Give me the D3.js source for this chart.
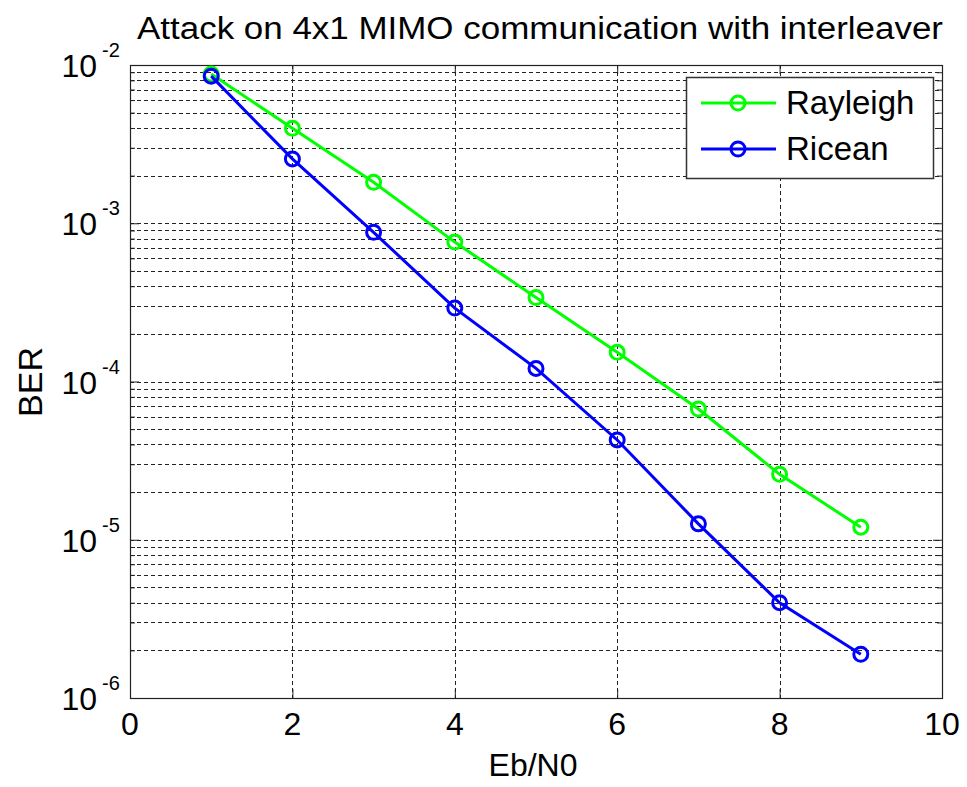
<!DOCTYPE html>
<html>
<head>
<meta charset="utf-8">
<script src="https://cdn.jsdelivr.net/npm/d3@7"></script>
<style>
  body { margin: 0; background: #fff; }
  text { font-family: "Liberation Sans", Arial, sans-serif; fill: #000; }
</style>
</head>
<body>
<div id="chart-area"></div>
<script>
// data
var ebn0 = [1, 2, 3, 4, 5, 6, 7, 8, 9];
var rayleigh = [8.77e-3, 3.98e-3, 1.815e-3, 7.6e-4, 3.39e-4, 1.53e-4, 6.7e-5, 2.59e-5, 1.2e-5];
var ricean = [8.5e-3, 2.55e-3, 8.77e-4, 2.91e-4, 1.21e-4, 4.27e-5, 1.26e-5, 4.0e-6, 1.89e-6];
var seriesNames = ["Rayleigh", "Ricean"];
var xTicks = [0, 2, 4, 6, 8, 10];
var yExponents = [-2, -3, -4, -5, -6];

var colors = { Rayleigh: "#00ff00", Ricean: "#0000ff" };

var margin = { left: 130, right: 25, top: 65, bottom: 89 };
var W = 967, H = 787;
var width = W - margin.left - margin.right,
    height = H - margin.top - margin.bottom;

var svg = d3.select("#chart-area")
    .append("svg")
        .attr("width", W)
        .attr("height", H);

var g = svg.append("g")
    .attr("transform", "translate(" + margin.left + "," + margin.top + ")");

// scales
var x = d3.scaleLinear().domain([0, 10]).range([0, width]);
var y = d3.scaleLog().domain([1e-6, 1e-2]).range([height, 0]);

// minor / major log values
var logTicks = [];
for (var e = -6; e < -2; e++) {
    for (var m = 1; m <= 9; m++) logTicks.push(m * Math.pow(10, e));
}
logTicks.push(1e-2);
var majorY = yExponents.map(function(e) { return Math.pow(10, e); });
var minorY = logTicks.filter(function(v) { return majorY.every(function(mj) { return Math.abs(v - mj) / mj > 1e-6; }); });

// grid
g.append("g").selectAll("line")
    .data(logTicks.filter(function(v) { return v > 1.0001e-6 && v < 0.9999e-2; }))
    .enter().append("line")
        .attr("x1", 0).attr("x2", width)
        .attr("y1", function(d) { return Math.round(y(d)) + 0.5; })
        .attr("y2", function(d) { return Math.round(y(d)) + 0.5; })
        .attr("stroke", "#222").attr("stroke-width", 1)
        .attr("stroke-dasharray", "4,3");

g.append("g").selectAll("line")
    .data(xTicks.slice(1, -1))
    .enter().append("line")
        .attr("y1", 0).attr("y2", height)
        .attr("x1", function(d) { return Math.round(x(d)) + 0.5; })
        .attr("x2", function(d) { return Math.round(x(d)) + 0.5; })
        .attr("stroke", "#222").attr("stroke-width", 1)
        .attr("stroke-dasharray", "4,3");

// axes with inward ticks
function tickAxis(axis, tr) {
    var a = g.append("g").attr("transform", tr).call(axis);
    a.select(".domain").remove();
    a.selectAll("text").remove();
    a.selectAll("line").attr("stroke", "#222");
    return a;
}
tickAxis(d3.axisLeft(y).tickValues(majorY).tickSize(-9), "");
tickAxis(d3.axisLeft(y).tickValues(minorY).tickSize(-5), "");
tickAxis(d3.axisRight(y).tickValues(majorY).tickSize(-9), "translate(" + width + ",0)");
tickAxis(d3.axisRight(y).tickValues(minorY).tickSize(-5), "translate(" + width + ",0)");
tickAxis(d3.axisBottom(x).tickValues(xTicks).tickSize(-9), "translate(0," + height + ")");
tickAxis(d3.axisTop(x).tickValues(xTicks).tickSize(-9), "");

// box
g.append("rect")
    .attr("x", 0.5).attr("y", 0.5)
    .attr("width", width).attr("height", height)
    .attr("fill", "none").attr("stroke", "#222").attr("stroke-width", 1.2);

// x tick labels
g.append("g").selectAll("text")
    .data(xTicks)
    .enter().append("text")
        .attr("x", function(d) { return x(d); })
        .attr("y", height + 37)
        .attr("text-anchor", "middle")
        .attr("font-size", "32px")
        .text(function(d) { return d; });

// y tick labels 10^e
var yl = g.append("g").selectAll("g")
    .data(yExponents)
    .enter().append("g")
        .attr("transform", function(d) { return "translate(0," + y(Math.pow(10, d)) + ")"; });
yl.append("text")
    .attr("x", -33).attr("y", 12)
    .attr("text-anchor", "end")
    .attr("font-size", "32px")
    .text("10");
yl.append("text")
    .attr("x", -28).attr("y", -8)
    .attr("text-anchor", "start")
    .attr("font-size", "20px")
    .text(function(d) { return d; });

// axis titles
svg.append("text")
    .attr("x", margin.left + width / 2 - 3)
    .attr("y", 776)
    .attr("text-anchor", "middle")
    .attr("font-size", "32px")
    .text("Eb/N0");

svg.append("text")
    .attr("transform", "translate(42," + 382 + ") rotate(-90)")
    .attr("text-anchor", "middle")
    .attr("font-size", "34px")
    .text("BER");

// title
svg.append("text")
    .attr("x", 137)
    .attr("y", 39)
    .attr("font-size", "31px")
    .attr("textLength", 806)
    .attr("lengthAdjust", "spacingAndGlyphs")
    .text("Attack on 4x1 MIMO communication with interleaver");

// lines
var series = [
    { name: "Rayleigh", values: rayleigh },
    { name: "Ricean", values: ricean }
];
var line = d3.line()
    .x(function(d, i) { return x(ebn0[i]); })
    .y(function(d) { return y(d); });

series.forEach(function(s) {
    g.append("path")
        .datum(s.values)
        .attr("d", line)
        .attr("fill", "none")
        .attr("stroke", colors[s.name])
        .attr("stroke-width", 3);
    g.append("g").selectAll("circle")
        .data(s.values)
        .enter().append("circle")
            .attr("cx", function(d, i) { return x(ebn0[i]); })
            .attr("cy", function(d) { return y(d); })
            .attr("r", 7)
            .attr("fill", "none")
            .attr("stroke", colors[s.name])
            .attr("stroke-width", 3);
});

// legend
var lg = svg.append("g").attr("transform", "translate(686,77)");
lg.append("rect")
    .attr("x", 0.5).attr("y", 0.5)
    .attr("width", 247).attr("height", 101)
    .attr("fill", "#fff").attr("stroke", "#333").attr("stroke-width", 1.5);
var items = lg.selectAll("g.item")
    .data(seriesNames)
    .enter().append("g")
        .attr("class", "item")
        .attr("transform", function(d, i) { return "translate(0," + (26 + i * 46) + ")"; });
items.append("line")
    .attr("x1", 15).attr("x2", 90)
    .attr("stroke", function(d) { return colors[d]; })
    .attr("stroke-width", 3);
items.append("circle")
    .attr("cx", 52).attr("r", 7)
    .attr("fill", "none")
    .attr("stroke", function(d) { return colors[d]; })
    .attr("stroke-width", 3);
items.append("text")
    .attr("x", 100).attr("y", 11)
    .attr("font-size", "33px")
    .text(function(d) { return d; });
</script>
</body>
</html>
